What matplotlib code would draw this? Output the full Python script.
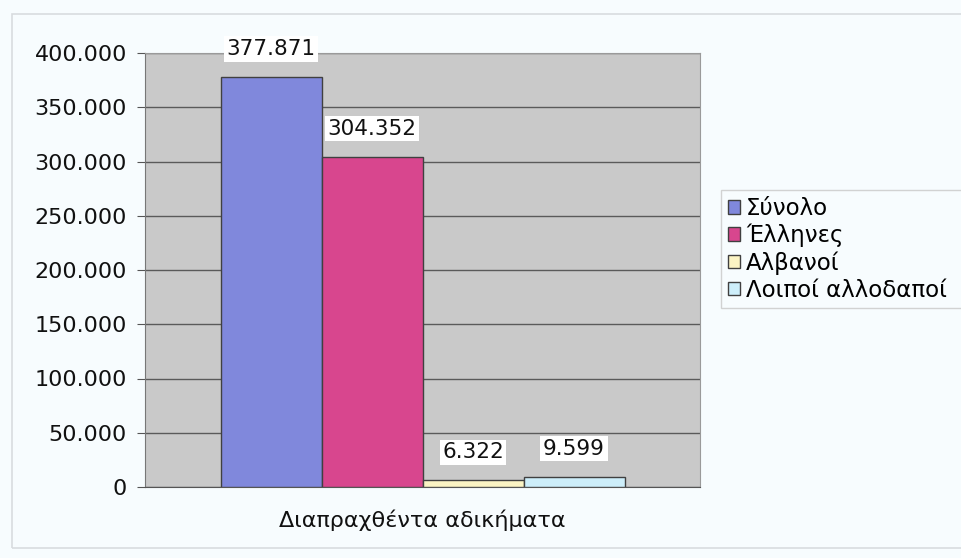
import matplotlib
matplotlib.use("Agg")
import matplotlib.pyplot as plt
from matplotlib.patches import Rectangle
from matplotlib.ticker import FuncFormatter

category = "Διαπραχθέντα αδικήματα"
series_names = ["Σύνολο", "Έλληνες", "Αλβανοί", "Λοιποί αλλοδαποί"]
values = [377871, 304352, 6322, 9599]
value_labels = ["377.871", "304.352", "6.322", "9.599"]
colors = ["#8088dc", "#d8468e", "#fbf4c4", "#cdeefa"]
yticks = [0, 50000, 100000, 150000, 200000, 250000, 300000, 350000, 400000]

plt.rcParams['font.family'] = ['DejaVu Sans']

W, H = 961, 558
fig = plt.figure(figsize=(W / 100, H / 100), dpi=100)
fig.patch.set_facecolor("#f7fcfe")

# chart-area border
fig.patches.append(Rectangle((12 / W, 1 - 548 / H), (W + 20) / W, (548 - 14) / H,
                             transform=fig.transFigure, fill=False,
                             edgecolor="#d8dcdf", linewidth=1.2))

ax = fig.add_axes([145 / W, 1 - 487 / H, (700 - 145) / W, (487 - 53) / H])
ax.set_facecolor("#c9c9c9")

n = len(values)
w = 101 / 555
for i, (name, v, c, lab) in enumerate(zip(series_names, values, colors, value_labels)):
    x = (i - (n - 1) / 2) * w
    ax.bar(x, v, width=w, color=c, edgecolor="#404040", linewidth=1.0, label=name, zorder=3)
    ax.annotate(lab, (x, v), xytext=(0, 13), textcoords="offset points",
                ha="center", va="bottom", fontsize=15.5, color="#111111", zorder=5,
                annotation_clip=False,
                bbox=dict(boxstyle="square,pad=0.12", facecolor="white", edgecolor="none"))

ax.set_xlim(-0.5, 0.5)
ax.set_ylim(0, 400000)
ax.set_yticks(yticks)
ax.yaxis.set_major_formatter(FuncFormatter(lambda v, p: f"{int(v):,}".replace(",", ".")))
ax.set_xticks([0])
ax.set_xticklabels([category])
ax.tick_params(axis="y", labelsize=16, length=6, color="#555555", pad=7, labelcolor="#111111")
ax.tick_params(axis="x", labelsize=16, length=0, pad=16, labelcolor="#111111")
ax.grid(axis="y", color="#5a5a5a", linewidth=1.0, zorder=1)
ax.set_axisbelow(True)
for s in ["top", "right"]:
    ax.spines[s].set_color("#9a9a9a")
ax.spines["left"].set_color("#777777")
ax.spines["bottom"].set_color("#555555")

leg = fig.legend(loc="upper left", bbox_to_anchor=(721 / W, 1 - 306 / H, 280 / W, 116 / H),
                 mode="expand", frameon=True,
                 fontsize=16.5, handlelength=0.55, handleheight=0.55, handletextpad=0.25,
                 labelspacing=0.17, borderpad=0.3, fancybox=False, borderaxespad=0)
leg.get_frame().set_edgecolor("#c8c8c8")
leg.get_frame().set_facecolor("#f7fcfe")
leg.get_frame().set_linewidth(1.0)

fig.savefig("out.png", dpi=100, facecolor=fig.get_facecolor())
